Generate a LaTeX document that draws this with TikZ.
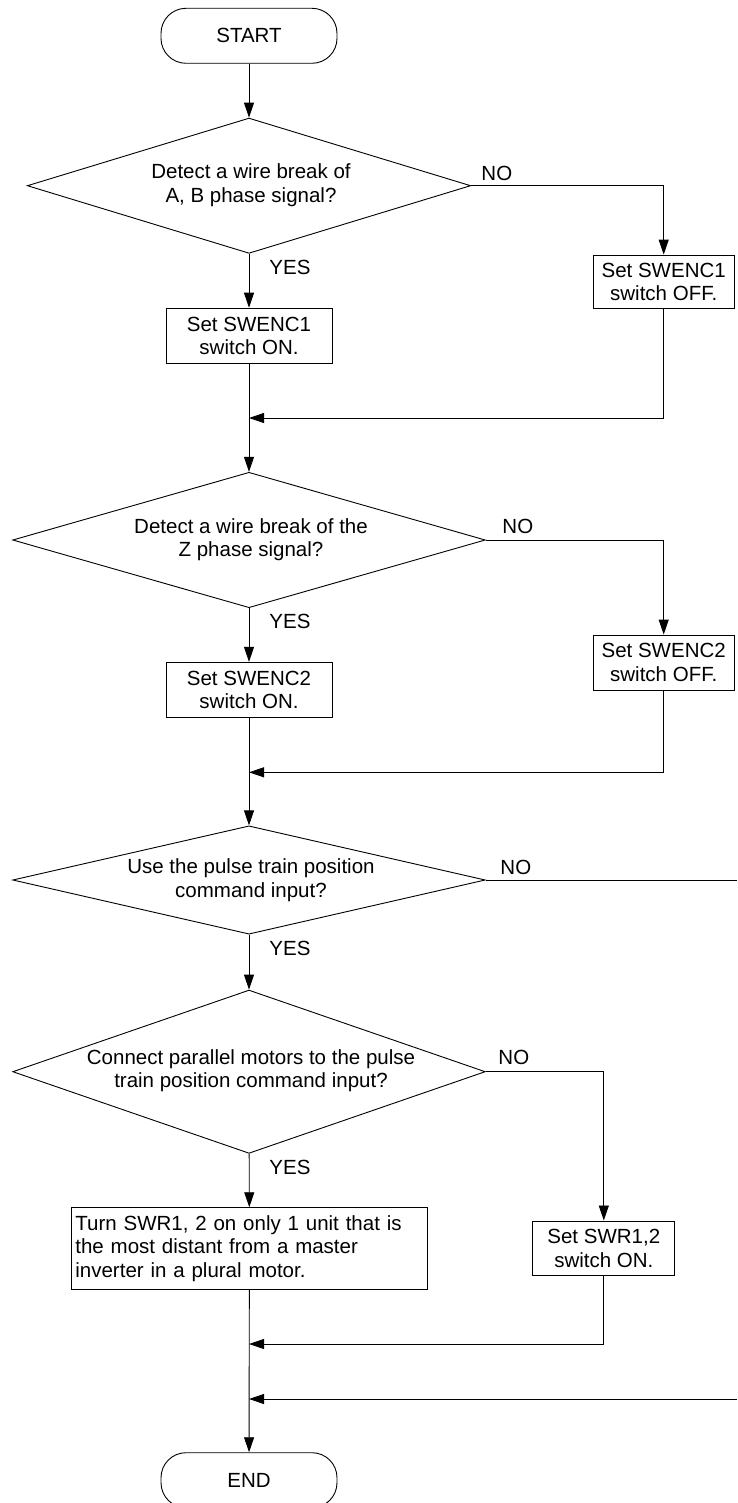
\documentclass[tikz,border=0pt]{standalone}
\usepackage{fontspec}
\setmainfont{Liberation Sans}
\usetikzlibrary{shapes.geometric,arrows.meta}
\tikzset{
  base/.style={font=\fontsize{20.5pt}{23.5pt}\selectfont, line width=0.9pt},
  term/.style={base, draw, rounded corners=25pt, minimum width=176pt, minimum height=55pt, inner sep=0pt},
  proc/.style={base, draw, align=center, inner sep=0pt},
  dia/.style={draw, line width=0.9pt, diamond, inner sep=0pt, minimum width=472.6pt},
  dtext/.style={base, align=center, inner sep=0pt},
  lbl/.style={base, anchor=west, inner sep=0pt},
  flow/.style={line width=0.9pt, -{Triangle[length=15pt,width=10pt]}},
  plain/.style={line width=0.9pt}
}
\begin{document}
\begin{tikzpicture}[x=1pt,y=-1pt]
\useasboundingbox (0,0) rectangle (737,1503);
\clip (0,0) rectangle (737,1503);

% nodes
\node[term] (start) at (249,35.8) {START};

\node[dia, minimum width=443.4pt, minimum height=135.3pt] (d1) at (249,185.7) {};
\node[dtext] (d1t) at (251,185.2) {Detect a wire break of\\A, B phase signal?};
\node[proc, minimum width=166pt, minimum height=55pt] (b1) at (249,335.7) {Set SWENC1\\switch ON.};
\node[proc, minimum width=141.4pt, minimum height=53.3pt] (r1) at (663.7,281.7) {Set SWENC1\\switch OFF.};
\coordinate (m1) at (249,418);

\node[dia, minimum height=135.4pt] (d2) at (249,540) {};
\node[dtext] (d2t) at (251,539.7) {Detect a wire break of the\\Z phase signal?};
\node[proc, minimum width=141pt, minimum height=55pt] (r2) at (663.7,662.5) {Set SWENC2\\switch OFF.};
\node[proc, minimum width=166pt, minimum height=55pt] (b2) at (249,689.8) {Set SWENC2\\switch ON.};
\coordinate (m2) at (249,772.3);

\node[dia, minimum height=108.3pt] (d3) at (249,880) {};
\node[dtext] (d3t) at (251,880) {Use the pulse train position\\command input?};
\coordinate (e3) at (737,880);

\node[dia, minimum height=163.3pt] (d4) at (249,1071.7) {};
\node[dtext] (d4t) at (251,1070.8) {Connect parallel motors to the pulse\\train position command input?};
\node[proc, align=left, text width=348pt, inner xsep=3.6pt, minimum height=81.6pt] (b3) at (249.4,1248.5) {Turn SWR1, 2 on only 1 unit that is\\the most distant from a master\\inverter in a plural motor.};
\node[proc, minimum width=142pt, minimum height=54.7pt] (r3) at (603.8,1248.3) {Set SWR1,2\\switch ON.};
\coordinate (m3) at (249,1344);
\coordinate (m4) at (249,1399);
\coordinate (e4) at (737,1399);

\node[term] (end) at (249,1480.2) {END};

% labels
\node[lbl] (no1) at (481,173) {NO};
\node[lbl] (yes1) at (269,267) {YES};
\node[lbl] (no2) at (502,526) {NO};
\node[lbl] (yes2) at (269,621) {YES};
\node[lbl] (no3) at (500,867) {NO};
\node[lbl] (yes3) at (269,948) {YES};
\node[lbl] (no4) at (498,1057) {NO};
\node[lbl] (yes4) at (269,1167) {YES};

% connectors
\draw[flow] (start) -- (d1);
\draw[flow] (d1) -- (b1);
\draw[flow] (d1.east) -| (r1.north);
\draw[flow] (r1.south) |- (m1);
\draw[flow] (b1) -- (d2);

\draw[flow] (d2) -- (b2);
\draw[flow] (d2.east) -| (r2.north);
\draw[flow] (r2.south) |- (m2);
\draw[flow] (b2) -- (d3);

\draw[plain] (d3.east) -- (e3);
\draw[flow] (d3) -- (d4);

\draw[flow] (d4) -- (b3);
\draw[flow] (d4.east) -| (r3.north);
\draw[flow] (r3.south) |- (m3);
\draw[flow] (e4) -- (m4);
\draw[flow] (b3) -- (end);
\end{tikzpicture}
\end{document}
